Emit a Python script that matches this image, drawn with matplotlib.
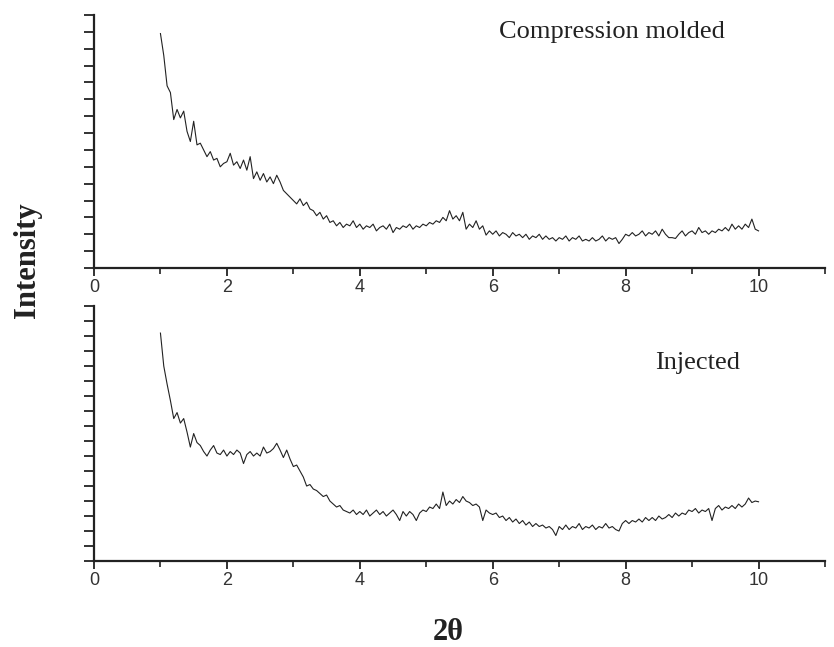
import numpy as np
import matplotlib.pyplot as plt

# 2-theta grid (step 0.05) and intensities
two_theta = np.round(np.arange(1.0, 10.0001, 0.05), 2)

compression = [
    13.9, 12.6, 10.8, 10.4, 8.8, 9.4, 8.9, 9.3, 8.1, 7.5, 8.7, 7.3, 7.4, 7.0, 6.6, 6.9, 6.4, 6.5, 6.0, 6.2,
    6.3, 6.8, 6.1, 6.3, 5.9, 6.4, 5.8, 6.6, 5.3, 5.7, 5.2, 5.6, 5.1, 5.4, 5.0, 5.5, 5.1, 4.6, 4.4, 4.2,
    4.0, 3.8, 4.1, 3.7, 3.9, 3.5, 3.4, 3.1, 3.3, 2.9, 3.1, 2.7, 2.8, 2.5, 2.7, 2.4, 2.6, 2.5, 2.8, 2.4,
    2.6, 2.3, 2.5, 2.4, 2.6, 2.2, 2.4, 2.5, 2.3, 2.6, 2.1, 2.4, 2.3, 2.5, 2.4, 2.6, 2.3, 2.5, 2.4, 2.6,
    2.5, 2.7, 2.6, 2.8, 2.7, 3.0, 2.8, 3.4, 2.9, 3.1, 2.8, 3.3, 2.3, 2.6, 2.4, 2.8, 2.3, 2.5, 1.95, 2.2,
    2.0, 2.2, 1.9, 2.1, 2.0, 1.8, 2.1, 1.9, 2.0, 1.8, 2.0, 1.7, 1.9, 1.8, 2.0, 1.7, 1.9, 1.7, 1.8, 1.6,
    1.8, 1.7, 1.9, 1.6, 1.8, 1.7, 1.9, 1.6, 1.7, 1.6, 1.8, 1.6, 1.7, 1.9, 1.6, 1.8, 1.7, 1.8, 1.45, 1.7,
    2.0, 1.9, 2.1, 1.9, 2.0, 2.2, 1.9, 2.1, 2.0, 2.2, 1.9, 2.3, 2.0, 1.8, 1.8, 1.75, 2.0, 2.2, 1.9, 2.1,
    2.2, 2.0, 2.4, 2.1, 2.2, 2.0, 2.2, 2.1, 2.3, 2.2, 2.4, 2.2, 2.6, 2.3, 2.5, 2.3, 2.6, 2.4, 2.9, 2.3,
    2.2,
]

injected = [
    15.2, 13.0, 11.8, 10.7, 9.5, 9.9, 9.2, 9.5, 8.6, 7.6, 8.5, 7.9, 7.7, 7.3, 7.0, 7.4, 7.7, 7.2, 7.1, 7.4,
    7.0, 7.3, 7.1, 7.4, 7.2, 6.5, 7.1, 7.3, 7.0, 7.2, 7.0, 7.6, 7.2, 7.3, 7.5, 7.85, 7.4, 6.9, 7.4, 6.8,
    6.3, 6.4, 6.0, 5.6, 5.0, 5.1, 4.8, 4.7, 4.5, 4.3, 4.4, 4.0, 3.8, 3.6, 3.7, 3.4, 3.3, 3.2, 3.4, 3.1,
    3.3, 3.1, 3.4, 3.0, 3.2, 3.4, 3.1, 3.3, 3.0, 3.2, 3.4, 3.1, 2.7, 3.3, 3.0, 3.3, 3.1, 2.7, 3.2, 3.4,
    3.3, 3.6, 3.5, 3.8, 3.5, 4.6, 3.7, 4.0, 3.8, 4.1, 3.9, 4.3, 4.0, 3.9, 3.7, 3.8, 3.6, 2.7, 3.4, 3.2,
    3.1, 3.2, 2.9, 3.0, 2.7, 2.9, 2.6, 2.8, 2.5, 2.7, 2.4, 2.6, 2.3, 2.5, 2.3, 2.4, 2.2, 2.3, 2.1, 1.7,
    2.3, 2.1, 2.4, 2.1, 2.3, 2.2, 2.5, 2.1, 2.3, 2.2, 2.4, 2.1, 2.3, 2.2, 2.5, 2.2, 2.3, 2.1, 2.0, 2.5,
    2.7, 2.5, 2.7, 2.6, 2.8, 2.6, 2.9, 2.7, 2.9, 2.7, 3.0, 2.8, 2.9, 3.1, 2.9, 3.2, 3.0, 3.2, 3.1, 3.4,
    3.3, 3.5, 3.2, 3.4, 3.3, 3.5, 2.7, 3.5, 3.7, 3.4, 3.6, 3.5, 3.7, 3.5, 3.8, 3.6, 3.8, 4.2, 3.9, 4.0,
    3.95,
]

x_ticks = [0, 2, 4, 6, 8, 10]

fig = plt.figure(figsize=(8.34, 6.47), dpi=100)
ax_top = fig.add_axes([0.1127, 0.5858, 0.8765, 0.391])
ax_bot = fig.add_axes([0.1127, 0.1329, 0.8765, 0.394])


def style(ax, ymax):
    ax.set_xlim(0, 11)
    ax.set_ylim(0, ymax)
    for s in ('top', 'right'):
        ax.spines[s].set_visible(False)
    for s in ('left', 'bottom'):
        ax.spines[s].set_linewidth(1.6)
        ax.spines[s].set_color('#222222')
    ax.set_xticks(x_ticks)
    ax.set_xticks(np.arange(1, 12, 2), minor=True)
    ax.set_yticks(np.arange(0, ymax + 1, 1))
    ax.set_yticklabels([])
    ax.tick_params(axis='y', direction='out', length=7, width=1.3, color='#222222')
    ax.tick_params(axis='x', which='major', direction='out', length=6, width=1.3,
                   color='#222222', pad=2, labelsize=13, labelcolor='#333333')
    ax.tick_params(axis='x', which='minor', direction='out', length=4.5, width=1.2, color='#222222')
    for lbl in ax.get_xticklabels():
        lbl.set_fontfamily('Liberation Sans')


ax_top.plot(two_theta, compression, color='#222222', lw=0.8)
style(ax_top, 15)
ax_top.text(6.1, 14.0, 'Compression molded', fontsize=19, family='Liberation Serif',
            va='center', ha='left', color='#222222')

ax_bot.plot(two_theta, injected, color='#222222', lw=0.8)
style(ax_bot, 17)
ax_bot.text(8.44, 13.2, 'Injected', fontsize=19, family='Liberation Serif',
            va='center', ha='left', color='#222222')

fig.text(0.033, 0.598, 'Intensity', rotation=90, fontsize=22, fontweight='bold',
         family='Liberation Serif', ha='center', va='center', color='#222222')
fig.text(0.538, 0.023, '2θ', fontsize=22, fontweight='bold',
         family='Liberation Serif', ha='center', va='center', color='#222222')

fig.savefig('out.png', dpi=100)
